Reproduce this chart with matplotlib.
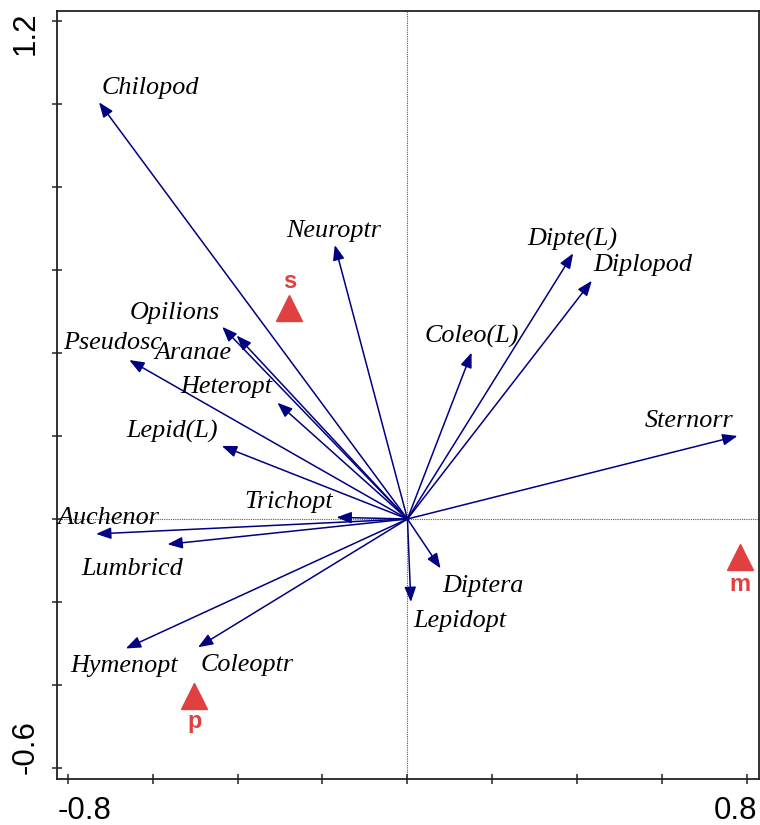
import matplotlib
matplotlib.use("Agg")
import matplotlib.pyplot as plt
from matplotlib.transforms import ScaledTranslation

# ---- data ----
species = ["Chilopod", "Neuroptr", "Opilions", "Aranae", "Heteropt", "Pseudosc",
           "Lepid(L)", "Trichopt", "Auchenor", "Lumbricd", "Hymenopt", "Coleoptr",
           "Lepidopt", "Diptera", "Coleo(L)", "Dipte(L)", "Diplopod", "Sternorr"]
axis1 = [-0.726, -0.171, -0.436, -0.402, -0.306, -0.655,
         -0.437, -0.167, -0.733, -0.565, -0.663, -0.493,
         0.008, 0.078, 0.151, 0.390, 0.434, 0.777]
axis2 = [1.004, 0.660, 0.463, 0.442, 0.280, 0.383,
         0.176, 0.004, -0.036, -0.061, -0.312, -0.309,
         -0.200, -0.119, 0.401, 0.640, 0.574, 0.200]

samples = ["s", "p", "m"]
samp1 = [-0.278, -0.503, 0.783]
samp2 = [0.509, -0.426, -0.091]

xticks = [-0.8, -0.6, -0.4, -0.2, 0.0, 0.2, 0.4, 0.6, 0.8]
xticklabels = ["-0.8", "", "", "", "", "", "", "", "0.8"]
yticks = [-0.6, -0.4, -0.2, 0.0, 0.2, 0.4, 0.6, 0.8, 1.0, 1.2]
yticklabels = ["-0.6", "", "", "", "", "", "", "", "", "1.2"]

# ---- layout: label positions (data coords) ----
species_label_pos = [(-0.606, 1.039), (-0.173, 0.695), (-0.547, 0.496), (-0.505, 0.399),
                     (-0.427, 0.317), (-0.695, 0.425), (-0.553, 0.210), (-0.279, 0.040),
                     (-0.704, 0.002), (-0.648, -0.121), (-0.666, -0.354), (-0.377, -0.352),
                     (0.124, -0.245), (0.177, -0.161), (0.152, 0.439), (0.388, 0.674),
                     (0.553, 0.612), (0.663, 0.237)]
sample_label_pos = [(-0.276, 0.573), (-0.501, -0.489), (0.783, -0.159)]

ARROW = "#000080"
RED = "#E04040"

fig = plt.figure(figsize=(7.6, 8.25), dpi=100)
ax = fig.add_axes([57 / 760, 1 - 779 / 825, (759 - 57) / 760, (779 - 11) / 825])
ax.set_xlim(-0.825, 0.8276)
ax.set_ylim(-0.6265, 1.224)

ax.axhline(0, color="#555555", lw=0.8, ls=(0, (1, 1)), zorder=1)
ax.axvline(0, color="#555555", lw=0.8, ls=(0, (1, 1)), zorder=1)

for x, y in zip(axis1, axis2):
    ax.annotate("", xy=(x, y), xytext=(0, 0),
                arrowprops=dict(arrowstyle="-|>,head_length=0.9,head_width=0.35",
                                color=ARROW, lw=1.1, mutation_scale=10,
                                shrinkA=0, shrinkB=0), zorder=3)

for name, (lx, ly) in zip(species, species_label_pos):
    ax.text(lx, ly, name, family="Liberation Serif", style="italic", fontsize=18.8,
            ha="center", va="center", color="black", zorder=4)

ax.plot(samp1, samp2, ls="none", marker="^", ms=19, color=RED, mec=RED, zorder=5)
for name, (lx, ly) in zip(samples, sample_label_pos):
    ax.text(lx, ly, name, family="Liberation Sans", fontweight="bold", fontsize=17,
            ha="center", va="center", color=RED, zorder=5)

ax.set_xticks(xticks)
ax.set_xticklabels(xticklabels)
ax.set_yticks(yticks)
ax.set_yticklabels(yticklabels)
ax.tick_params(axis="both", direction="inout", length=7, width=1.1, color="#222222",
               labelsize=22.5, labelcolor="black")
ax.tick_params(axis="x", pad=9)
ax.tick_params(axis="y", pad=8)
for lab in ax.get_xticklabels() + ax.get_yticklabels():
    lab.set_family("Liberation Sans")

xl = ax.get_xticklabels()
xl[0].set_ha("left")
xl[0].set_transform(xl[0].get_transform() + ScaledTranslation(-10 / 100, 0, fig.dpi_scale_trans))
xl[-1].set_ha("right")
xl[-1].set_transform(xl[-1].get_transform() + ScaledTranslation(10 / 100, 0, fig.dpi_scale_trans))

yl = ax.get_yticklabels()
for lab in yl:
    lab.set_rotation(90)
    lab.set_va("center")
    lab.set_ha("right")
yl[0].set_transform(yl[0].get_transform() + ScaledTranslation(0, 21 / 100, fig.dpi_scale_trans))
yl[-1].set_transform(yl[-1].get_transform() + ScaledTranslation(0, -12 / 100, fig.dpi_scale_trans))

for sp in ax.spines.values():
    sp.set_linewidth(1.3)
    sp.set_color("#222222")

fig.savefig("out.png", dpi=100)
